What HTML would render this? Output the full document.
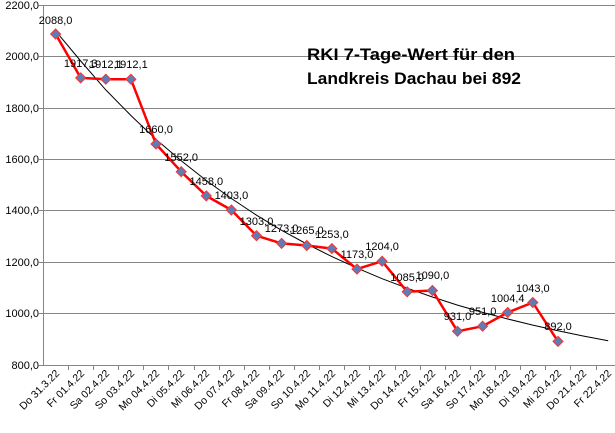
<!DOCTYPE html>
<html><head><meta charset="utf-8"><style>
html,body{margin:0;padding:0;background:#fff;width:615px;height:433px;overflow:hidden}
svg{display:block;font-family:"Liberation Sans",sans-serif}
</style></head><body>
<svg width="615" height="433" viewBox="0 0 615 433" xmlns="http://www.w3.org/2000/svg">
<g stroke="#868686" stroke-width="1">
<line x1="43" y1="5.5" x2="615" y2="5.5"/><line x1="43" y1="56.5" x2="615" y2="56.5"/>
<line x1="43" y1="108.5" x2="615" y2="108.5"/><line x1="43" y1="159.5" x2="615" y2="159.5"/>
<line x1="43" y1="210.5" x2="615" y2="210.5"/><line x1="43" y1="262.5" x2="615" y2="262.5"/>
<line x1="43" y1="313.5" x2="615" y2="313.5"/><line x1="43" y1="365.5" x2="615" y2="365.5"/>
<line x1="43.5" y1="5" x2="43.5" y2="365"/>
<line x1="39" y1="5.5" x2="43" y2="5.5"/><line x1="39" y1="56.5" x2="43" y2="56.5"/><line x1="39" y1="108.5" x2="43" y2="108.5"/><line x1="39" y1="159.5" x2="43" y2="159.5"/><line x1="39" y1="210.5" x2="43" y2="210.5"/><line x1="39" y1="262.5" x2="43" y2="262.5"/><line x1="39" y1="313.5" x2="43" y2="313.5"/><line x1="39" y1="365.5" x2="43" y2="365.5"/>
<line x1="68.5" y1="365" x2="68.5" y2="370"/><line x1="93.5" y1="365" x2="93.5" y2="370"/><line x1="118.5" y1="365" x2="118.5" y2="370"/><line x1="143.5" y1="365" x2="143.5" y2="370"/><line x1="168.5" y1="365" x2="168.5" y2="370"/><line x1="194.5" y1="365" x2="194.5" y2="370"/><line x1="219.5" y1="365" x2="219.5" y2="370"/><line x1="244.5" y1="365" x2="244.5" y2="370"/><line x1="269.5" y1="365" x2="269.5" y2="370"/><line x1="294.5" y1="365" x2="294.5" y2="370"/><line x1="319.5" y1="365" x2="319.5" y2="370"/><line x1="344.5" y1="365" x2="344.5" y2="370"/><line x1="369.5" y1="365" x2="369.5" y2="370"/><line x1="395.5" y1="365" x2="395.5" y2="370"/><line x1="420.5" y1="365" x2="420.5" y2="370"/><line x1="445.5" y1="365" x2="445.5" y2="370"/><line x1="470.5" y1="365" x2="470.5" y2="370"/><line x1="495.5" y1="365" x2="495.5" y2="370"/><line x1="520.5" y1="365" x2="520.5" y2="370"/><line x1="545.5" y1="365" x2="545.5" y2="370"/><line x1="570.5" y1="365" x2="570.5" y2="370"/><line x1="596.5" y1="365" x2="596.5" y2="370"/>
</g>
<g font-size="11" text-anchor="end" fill="#000">
<text x="39" y="9">2200,0</text><text x="39" y="60">2000,0</text><text x="39" y="112">1800,0</text><text x="39" y="163">1600,0</text><text x="39" y="214">1400,0</text><text x="39" y="266">1200,0</text><text x="39" y="317">1000,0</text><text x="39" y="369">800,0</text>
</g>
<g font-size="10.5" text-anchor="end" fill="#000">
<text transform="translate(60,374) rotate(-45)">Do 31.3.22</text>
<text transform="translate(85,374) rotate(-45)">Fr 01.4.22</text>
<text transform="translate(110,374) rotate(-45)">Sa 02.4.22</text>
<text transform="translate(135,374) rotate(-45)">So 03.4.22</text>
<text transform="translate(160,374) rotate(-45)">Mo 04.4.22</text>
<text transform="translate(185,374) rotate(-45)">Di 05.4.22</text>
<text transform="translate(210,374) rotate(-45)">Mi 06.4.22</text>
<text transform="translate(235,374) rotate(-45)">Do 07.4.22</text>
<text transform="translate(260,374) rotate(-45)">Fr 08.4.22</text>
<text transform="translate(285,374) rotate(-45)">Sa 09.4.22</text>
<text transform="translate(311,374) rotate(-45)">So 10.4.22</text>
<text transform="translate(336,374) rotate(-45)">Mo 11.4.22</text>
<text transform="translate(361,374) rotate(-45)">Di 12.4.22</text>
<text transform="translate(386,374) rotate(-45)">Mi 13.4.22</text>
<text transform="translate(411,374) rotate(-45)">Do 14.4.22</text>
<text transform="translate(436,374) rotate(-45)">Fr 15.4.22</text>
<text transform="translate(461,374) rotate(-45)">Sa 16.4.22</text>
<text transform="translate(486,374) rotate(-45)">So 17.4.22</text>
<text transform="translate(511,374) rotate(-45)">Mo 18.4.22</text>
<text transform="translate(537,374) rotate(-45)">Di 19.4.22</text>
<text transform="translate(562,374) rotate(-45)">Mi 20.4.22</text>
<text transform="translate(587,374) rotate(-45)">Do 21.4.22</text>
<text transform="translate(612,374) rotate(-45)">Fr 22.4.22</text>
</g>
<polyline fill="none" stroke="#000" stroke-width="1" points="55.6,30.9 80.7,61 105.8,89.9 130.9,115.5 156,139.4 181.2,160.8 206.3,180.5 231.4,198.5 256.5,215.2 281.6,230.3 306.8,244 331.9,256.6 357,268.1 382.1,278.7 407.2,288.2 432.4,297 457.5,305.1 482.6,312.4 507.7,319 532.8,325.1 558,330.8 583.1,336 608.2,340.8"/>
<polyline fill="none" stroke="#ff0000" stroke-width="2.5" stroke-linejoin="round" points="55.6,34 80.7,77.9 105.8,79.2 130.9,79.2 156,144 181.2,171.7 206.3,195.9 231.4,210 256.5,235.7 281.6,243.4 306.8,245.5 331.9,248.6 357,269.1 382.1,261.2 407.2,291.8 432.4,290.5 457.5,331.3 482.6,326.2 507.7,312.5 532.8,302.5 558,341.4"/>
<g fill="#5b7db8" stroke="#ff3030" stroke-width="1">
<path d="M55.6,29l5,5-5,5-5-5z"/><path d="M80.7,72.9l5,5-5,5-5-5z"/><path d="M105.8,74.2l5,5-5,5-5-5z"/><path d="M130.9,74.2l5,5-5,5-5-5z"/><path d="M156,139l5,5-5,5-5-5z"/><path d="M181.2,166.7l5,5-5,5-5-5z"/><path d="M206.3,190.9l5,5-5,5-5-5z"/><path d="M231.4,205l5,5-5,5-5-5z"/><path d="M256.5,230.7l5,5-5,5-5-5z"/><path d="M281.6,238.4l5,5-5,5-5-5z"/><path d="M306.8,240.5l5,5-5,5-5-5z"/><path d="M331.9,243.6l5,5-5,5-5-5z"/><path d="M357,264.1l5,5-5,5-5-5z"/><path d="M382.1,256.2l5,5-5,5-5-5z"/><path d="M407.2,286.8l5,5-5,5-5-5z"/><path d="M432.4,285.5l5,5-5,5-5-5z"/><path d="M457.5,326.3l5,5-5,5-5-5z"/><path d="M482.6,321.2l5,5-5,5-5-5z"/><path d="M507.7,307.5l5,5-5,5-5-5z"/><path d="M532.8,297.5l5,5-5,5-5-5z"/><path d="M558,336.4l5,5-5,5-5-5z"/>
</g>
<g font-size="11" text-anchor="middle" fill="#000">
<text x="55.6" y="24">2088,0</text><text x="80.7" y="67">1917,3</text><text x="105.8" y="68">1912,1</text><text x="130.9" y="68">1912,1</text><text x="156" y="133">1660,0</text><text x="181.2" y="161">1552,0</text><text x="206.3" y="185">1458,0</text><text x="231.4" y="199">1403,0</text><text x="256.5" y="225">1303,0</text><text x="281.6" y="232">1273,0</text><text x="306.8" y="234">1265,0</text><text x="331.9" y="238">1253,0</text><text x="357" y="258">1173,0</text><text x="382.1" y="250">1204,0</text><text x="407.2" y="281">1085,0</text><text x="432.4" y="279">1090,0</text><text x="457.5" y="320">931,0</text><text x="482.6" y="315">951,0</text><text x="507.7" y="302">1004,4</text><text x="532.8" y="292">1043,0</text><text x="558" y="330">892,0</text>
</g>
<g font-size="17" font-weight="bold" fill="#000">
<text x="307" y="60" textLength="208" lengthAdjust="spacingAndGlyphs">RKI  7-Tage-Wert  für den</text>
<text x="307" y="84" textLength="214" lengthAdjust="spacingAndGlyphs">Landkreis Dachau bei 892</text>
</g>
</svg>
</body></html>
